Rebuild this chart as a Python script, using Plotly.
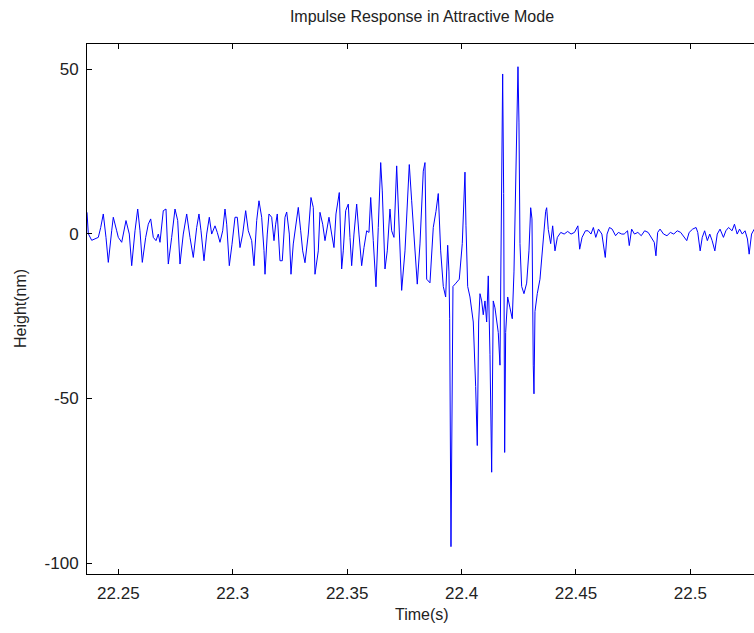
import plotly.graph_objects as go

title_text = "Impulse Response in Attractive Mode"
x_label = "Time(s)"
y_label = "Height(nm)"

x_tick_vals = [22.25, 22.3, 22.35, 22.4, 22.45, 22.5]
x_tick_text = ["22.25", "22.3", "22.35", "22.4", "22.45", "22.5"]
y_tick_vals = [50, 0, -50, -100]
y_tick_text = ["50", "0", "-50", "-100"]

# time samples (s)
time_s = [
    22.23630, 22.23687, 22.23835, 22.23980, 22.24124, 22.24229, 22.24342, 22.24460,
    22.24561, 22.24709, 22.24779, 22.24928, 22.24998, 22.25146, 22.25334, 22.25479,
    22.25583, 22.25728, 22.25846, 22.25946, 22.26047, 22.26195, 22.26309, 22.26414,
    22.26527, 22.26645, 22.26746, 22.26820, 22.26964, 22.27082, 22.27183, 22.27331,
    22.27476, 22.27594, 22.27694, 22.27838, 22.27987, 22.28131, 22.28275, 22.28424,
    22.28524, 22.28612, 22.28743, 22.28861, 22.28975, 22.29079, 22.29224, 22.29324,
    22.29442, 22.29560, 22.29661, 22.29735, 22.29849, 22.29967, 22.30098, 22.30198,
    22.30316, 22.30434, 22.30565, 22.30679, 22.30827, 22.30928, 22.31046, 22.31146,
    22.31264, 22.31365, 22.31409, 22.31509, 22.31583, 22.31701, 22.31802, 22.31876,
    22.31946, 22.32064, 22.32165, 22.32283, 22.32357, 22.32471, 22.32545, 22.32645,
    22.32750, 22.32864, 22.32969, 22.33056, 22.33157, 22.33301, 22.33419, 22.33519,
    22.33594, 22.33738, 22.33812, 22.33930, 22.34031, 22.34131, 22.34205, 22.34323,
    22.34424, 22.34511, 22.34586, 22.34656, 22.34760, 22.34830, 22.34935, 22.35049,
    22.35123, 22.35197, 22.35298, 22.35416, 22.35516, 22.35634, 22.35735, 22.35853,
    22.35953, 22.36028, 22.36141, 22.36259, 22.36360, 22.36465, 22.36535, 22.36653,
    22.36753, 22.36871, 22.36945, 22.37046, 22.37164, 22.37234, 22.37382, 22.37527,
    22.37601, 22.37715, 22.37819, 22.37964, 22.38064, 22.38182, 22.38326, 22.38401,
    22.38475, 22.38619, 22.38763, 22.38881, 22.38982, 22.39087, 22.39201, 22.39305,
    22.39393, 22.39449, 22.39480, 22.39537, 22.39581, 22.39624, 22.39755, 22.39900,
    22.40031, 22.40149, 22.40192, 22.40267, 22.40367, 22.40511, 22.40616, 22.40686,
    22.40747, 22.40804, 22.40878, 22.40948, 22.41023, 22.41097, 22.41167, 22.41241,
    22.41315, 22.41385, 22.41460, 22.41534, 22.41604, 22.41678, 22.41735, 22.41796,
    22.41840, 22.41883, 22.41927, 22.42015, 22.42115, 22.42216, 22.42290, 22.42377,
    22.42465, 22.42508, 22.42552, 22.42626, 22.42727, 22.42845, 22.42945, 22.43020,
    22.43077, 22.43133, 22.43164, 22.43208, 22.43308, 22.43426, 22.43527, 22.43601,
    22.43675, 22.43719, 22.43789, 22.43894, 22.43981,
    22.44082, 22.44186, 22.44335, 22.44484, 22.44637, 22.44785, 22.44934, 22.45082,
    22.45161, 22.45266, 22.45414, 22.45532, 22.45655, 22.45760, 22.45865, 22.45983,
    22.46131, 22.46205, 22.46280, 22.46358, 22.46463, 22.46581, 22.46730, 22.46852,
    22.47001, 22.47106, 22.47254, 22.47329, 22.47433, 22.47556, 22.47704, 22.47853,
    22.48001, 22.48154, 22.48303, 22.48421, 22.48495, 22.48570, 22.48674, 22.48827,
    22.48976, 22.49125, 22.49273, 22.49426, 22.49575, 22.49723, 22.49841, 22.49946,
    22.50099, 22.50248, 22.50322, 22.50427, 22.50519, 22.50623, 22.50741, 22.50846,
    22.50951, 22.51069, 22.51174, 22.51296, 22.51445, 22.51550, 22.51668, 22.51821,
    22.51926, 22.52044, 22.52149, 22.52267, 22.52389, 22.52494, 22.52568, 22.52673,
    22.52791, 22.52940,
]

# height values (nm)
height_nm = [
    6.5, 0.0, -2.0, -1.6, -1.1, 1.9, 6.0, -1.1,
    -8.7, 0.9, 5.0, 0.9, -1.1, -2.6, 4.0, -0.1,
    -9.7, 0.9, 7.5, 0.9, -8.7, -1.1, 2.9, 4.5,
    -1.1, -2.1, -0.1, -2.6, 7.0, 7.5, -9.2, -1.1,
    7.5, 4.0, -9.2, -0.1, 6.0, -1.1, -7.2, 1.9,
    6.0, 0.9, -8.2, -0.1, 5.0, -0.1, 2.4, 0.4,
    -2.6, 0.9, 7.5, 2.9, -9.7, -3.2, 5.0, 5.0,
    -4.2, -0.1, 7.0, 0.9, -2.1, -9.7, 4.0, 10.0,
    5.0, -5.1, -12.3, -0.1, 6.0, 5.0, -2.1, 2.9,
    6.0, -8.2, -8.2, 5.0, 6.6, -0.1, -12.3, -3.1,
    2.9, 8.0, 0.9, -5.2, -8.8, -0.1, 11.0, 8.0,
    -12.3, -5.2, 6.5, 2.9, -2.1, 2.4, 5.0, -0.1,
    -4.2, 6.0, 10.0, 12.5, -10.7, -5.2, 7.0, 9.0,
    -1.1, -9.7, -0.1, 9.0, -0.1, -9.7, -4.2, 0.9,
    0.4, 11.0, -2.1, -16.1, 1.9, 21.6, 13.0, -10.7,
    -5.2, 7.5, 0.9, -1.1, 20.6, 10.0, -17.2, -5.2,
    7.0, 21.0, 10.0, -5.2, -15.3, -3.1, 19.0, 21.6,
    -13.8, -14.9, 1.9, 6.8, 12.2, -5.2, -16.0, -19.2,
    -3.5, -11.6, -25.8, -95.0, -55.0, -16.0, -15.0, -13.8,
    -3.0, 18.7, 2.4, -16.0, -19.2, -26.8, -46.4, -64.3,
    -26.8, -18.2, -20.4, -24.6, -20.4, -26.8, -12.8, -36.6,
    -72.4, -20.4, -22.5, -26.8, -30.0, -39.9, 3.5, 48.5,
    12.2, -66.4, -30.0, -19.2, -22.5, -25.8, -11.6, 19.8,
    50.7, 33.9, -3.0, -16.0, -18.2, -15.0, -5.2, 7.9,
    4.5, -39.9, -48.6, -23.6, -18.2, -13.8, -5.2, 2.4,
    6.8, 7.9, 1.3, -3.0, 2.4,
    -5.2, -1.1, 0.4, -0.1, 0.7, -0.1, 0.4, 2.4,
    -4.7, -1.1, 0.9, 0.9, -0.1, 1.9, -1.1, 1.4,
    -0.1, -3.1, -7.2, -0.1, 1.9, 1.4, -0.6, 0.4,
    -0.1, -0.1, 0.9, -3.6, 1.4, -0.1, 0.4, -0.6,
    0.9, 0.4, -1.1, -2.6, -6.7, 0.4, 1.4, -0.1,
    -0.6, 0.4, -0.1, 0.9, 0.4, -1.1, -2.1, 0.4,
    1.4, 1.9, 0.4, -5.2, -1.1, 0.9, -2.1, -0.1,
    -2.1, -5.2, -0.1, 1.4, -1.1, 0.9, 1.9, 0.9,
    2.9, -0.1, 1.4, -0.1, 0.9, -1.6, -6.2, -0.1,
    1.4, 1.9,
]

x_range = [22.2363, 22.5278]
y_range = [-103.3, 57.6]

font_family = "Liberation Sans, Arial, sans-serif"

fig = go.Figure()
fig.add_trace(go.Scatter(
    x=time_s, y=height_nm, mode="lines",
    line=dict(color="#0000ff", width=1),
    showlegend=False, hoverinfo="skip",
))

fig.update_layout(
    width=754, height=633,
    margin=dict(l=87, r=0, t=44, b=59),
    paper_bgcolor="white", plot_bgcolor="white",
    font=dict(family=font_family, size=17, color="#222222"),
    title=dict(text=title_text, x=(87 + 757) / 2 / 754, xref="container", xanchor="center",
               y=1 - 16 / 633, yref="container", yanchor="middle",
               font=dict(size=16, family=font_family, color="#222222")),
    annotations=[
        dict(text=x_label, xref="paper", yref="paper", x=(422 - 87) / 667, y=0,
             xanchor="center", yanchor="middle", yshift=-40, showarrow=False,
             font=dict(size=16, family=font_family, color="#222222")),
        dict(text=y_label, xref="paper", yref="paper", x=0, y=0.5,
             xanchor="center", yanchor="middle", xshift=-67, textangle=-90,
             showarrow=False,
             font=dict(size=16, family=font_family, color="#222222")),
    ],
)

fig.update_xaxes(
    range=x_range, tickvals=x_tick_vals, ticktext=x_tick_text,
    ticks="inside", ticklen=5, tickwidth=1, tickcolor="black",
    showline=True, linecolor="black", linewidth=1, mirror="ticks",
    showgrid=False, zeroline=False,
    tickfont=dict(size=17), ticklabelstandoff=4,
)
fig.update_yaxes(
    range=y_range, tickvals=y_tick_vals, ticktext=y_tick_text,
    ticks="inside", ticklen=5, tickwidth=1, tickcolor="black",
    showline=True, linecolor="black", linewidth=1, mirror=False,
    showgrid=False, zeroline=False,
    tickfont=dict(size=17), ticklabelstandoff=4,
)

fig.write_html("out.html")
